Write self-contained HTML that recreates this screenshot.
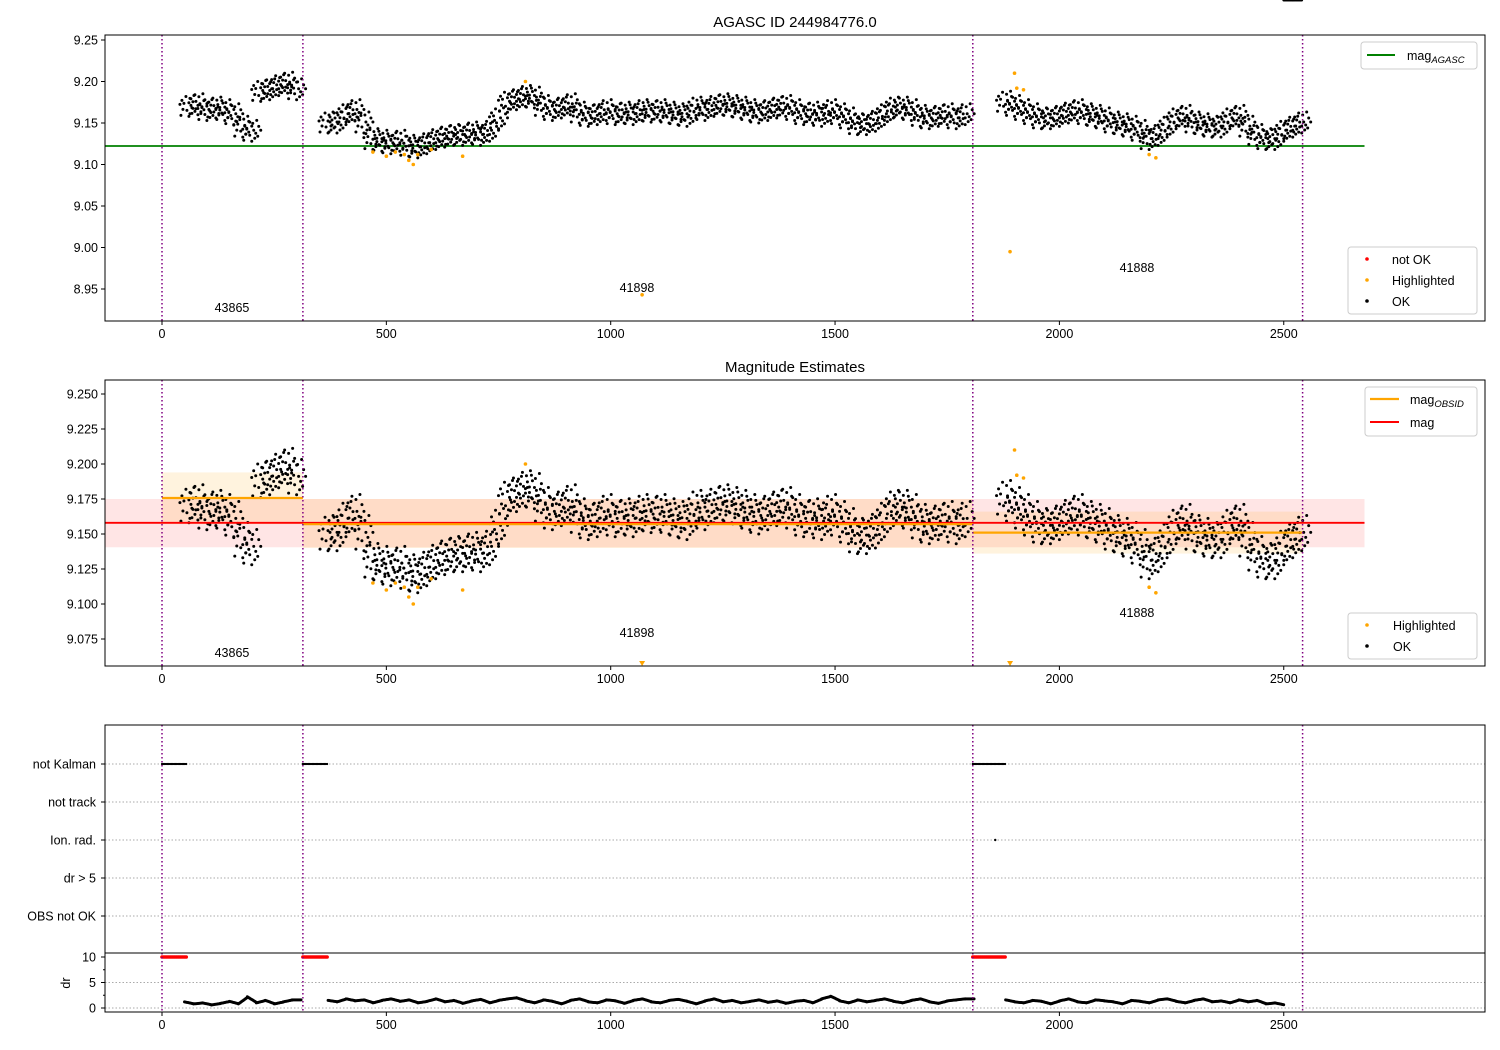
<!DOCTYPE html>
<html><head><meta charset="utf-8"><style>
html,body{margin:0;padding:0;background:#fff;overflow:hidden}
svg{display:block;font-family:"Liberation Sans","DejaVu Sans",sans-serif}
</style></head><body>
<svg id="chart" width="1500" height="1050" viewBox="0 0 1500 1050" xmlns="http://www.w3.org/2000/svg">
<defs><clipPath id="c1"><rect x="105" y="35" width="1380" height="286"/></clipPath><clipPath id="c2"><rect x="105" y="380" width="1380" height="286"/></clipPath></defs>
</svg>
<script>
// ---- data ----
const seg1X=[60,80,100,120,140,160,180,200,220,240,260,280,300];
const seg1Mag=[9.170,9.172,9.165,9.168,9.165,9.160,9.145,9.140,9.188,9.190,9.195,9.198,9.190];
const seg2X=[370,390,410,430,450,470,490,510,530,550,570,590,610,630,650,670,690,710,730,750,770,790,810,830,850,870,890,910,930,950,970,990,1010,1030,1050,1070,1090,1110,1130,1150,1170,1190,1210,1230,1250,1270,1290,1310,1330,1350,1370,1390,1410,1430,1450,1470,1490,1510,1530,1550,1570,1590,1610,1630,1650,1670,1690,1710,1730,1750,1770,1790];
const seg2Mag=[9.150,9.150,9.160,9.165,9.150,9.130,9.128,9.125,9.128,9.122,9.120,9.125,9.130,9.133,9.135,9.135,9.138,9.135,9.140,9.155,9.175,9.178,9.182,9.180,9.170,9.165,9.168,9.172,9.162,9.158,9.160,9.165,9.160,9.162,9.160,9.165,9.163,9.165,9.162,9.160,9.158,9.168,9.165,9.170,9.172,9.170,9.168,9.165,9.162,9.165,9.168,9.170,9.165,9.160,9.162,9.158,9.165,9.160,9.155,9.148,9.148,9.152,9.160,9.168,9.168,9.165,9.158,9.155,9.158,9.160,9.155,9.160];
const seg3X=[1880,1900,1920,1940,1960,1980,2000,2020,2040,2060,2080,2100,2120,2140,2160,2180,2200,2220,2240,2260,2280,2300,2320,2340,2360,2380,2400,2420,2440,2460,2480,2500,2520,2540];
const seg3Mag=[9.175,9.170,9.165,9.160,9.155,9.155,9.158,9.162,9.165,9.160,9.158,9.155,9.150,9.148,9.145,9.140,9.130,9.135,9.145,9.155,9.158,9.150,9.148,9.145,9.145,9.155,9.158,9.145,9.135,9.130,9.130,9.140,9.145,9.150];
const hlX=[470,500,520,540,550,560,570,600,670,810,1890,1900,1905,1920,2200,2215,1070];
const hlMag=[9.115,9.110,9.115,9.112,9.105,9.100,9.112,9.118,9.110,9.200,8.995,9.210,9.192,9.190,9.112,9.108,8.943];
const obsBounds=[0,314,1807,2542];
const obsIds=["43865","41898","41888"];
const obsMag=[9.1757,9.157,9.151];
const obsLo=[9.157,9.140,9.136];
const obsHi=[9.194,9.175,9.166];
const agascMag=9.1223;
const meanMag=9.158, meanLo=9.1405, meanHi=9.175;
const nkRanges=[[0,55],[314,370],[1807,1880]];
const ionX=[1857];
const drX=[60,80,100,120,140,160,180,200,220,240,260,280,300,380,400,420,440,460,480,500,520,540,560,580,600,620,640,660,680,700,720,740,760,780,800,820,840,860,880,900,920,940,960,980,1000,1020,1040,1060,1080,1100,1120,1140,1160,1180,1200,1220,1240,1260,1280,1300,1320,1340,1360,1380,1400,1420,1440,1460,1480,1500,1520,1540,1560,1580,1600,1620,1640,1660,1680,1700,1720,1740,1760,1780,1800,1890,1910,1930,1950,1970,1990,2010,2030,2050,2070,2090,2110,2130,2150,2170,2190,2210,2230,2250,2270,2290,2310,2330,2350,2370,2390,2410,2430,2450,2470,2490,2510,2530];
const drVal=[1.2,0.8,1.0,0.6,0.9,1.3,0.8,2.2,1.0,1.5,0.8,1.2,1.6,1.5,1.2,1.8,1.4,1.6,1.0,1.5,1.8,1.3,1.6,1.0,1.3,1.8,1.2,1.5,0.9,1.4,1.7,1.0,1.5,1.8,2.0,1.4,1.0,1.6,1.3,0.8,1.5,1.8,1.2,1.0,1.6,1.4,0.9,1.5,1.8,1.2,1.0,1.5,1.7,1.3,0.8,1.4,1.8,1.2,1.5,1.0,1.3,1.6,1.1,1.4,0.9,1.3,1.5,1.0,1.8,2.3,1.4,1.0,1.6,1.2,1.5,1.8,1.3,1.0,1.5,1.8,1.2,0.9,1.4,1.6,1.8,1.6,1.2,1.0,1.5,1.3,0.8,1.4,1.8,1.2,1.0,1.6,1.4,1.2,0.8,1.5,1.3,1.0,1.6,1.8,1.3,1.0,1.5,1.8,1.2,1.4,1.0,1.6,1.2,1.5,0.8,1.0,0.6];
const xTicks=[0,500,1000,1500,2000,2500];
const y1Ticks=[9.25,9.20,9.15,9.10,9.05,9.00,8.95];
const y2Ticks=[9.250,9.225,9.200,9.175,9.150,9.125,9.100,9.075];
const flagLabels=["not Kalman","not track","Ion. rad.","dr > 5","OBS not OK"];
const drTicks=[0,5,10];

// ---- scales ----
const NS="http://www.w3.org/2000/svg";
const svg=document.getElementById('chart');
const L=105,R=1485;
const xS=v=>162+v*0.4487;
const y1=v=>40+(9.25-v)*830;
const y2=v=>464+(9.2-v)*1400;
const yFlag=i=>764+i*38;
const yDr=v=>1008-v*5.1;
function el(tag,attrs,parent){const e=document.createElementNS(NS,tag);for(const k in attrs)e.setAttribute(k,attrs[k]);(parent||svg).appendChild(e);return e;}
function txt(s,attrs,parent){const t=el('text',attrs,parent);t.textContent=s;return t;}

const dotPat=[[-8,-0.9],[-5,0.3],[-2,-0.4],[1,0.8],[4,-0.2],[7,0.5],[-7,0.6],[-3,1.0],[0,-1.0],[3,-0.7],[6,-0.5],[9,0.1],[-9,0.2],[2,0.1],[-6,-0.3],[5,1.1]];

function drawScatter(g,yf,spread){
  [[seg1X,seg1Mag],[seg2X,seg2Mag],[seg3X,seg3Mag]].forEach(([xs,ms])=>{
    xs.forEach((x,i)=>{
      dotPat.forEach(p=>{
        const c=el('circle',{cx:xS(x)+p[0],cy:yf(ms[i]+p[1]*spread),r:1.5,fill:'#000'},g);
        
        
      });
    });
  });
}
function drawHl(g,yf,lo,hi){
  hlX.forEach((x,i)=>{
    const v=hlMag[i];
    if(v<lo||v>hi)return;
    const c=el('circle',{cx:xS(x),cy:yf(v),r:1.8,fill:'orange'},g);
    
    
  });
}
function vlines(g,top,bot){
  obsBounds.forEach(b=>{
    const l=el('line',{x1:xS(b),x2:xS(b),y1:top,y2:bot,stroke:'purple','stroke-width':1.5,'stroke-dasharray':'1.5,2.5'},g);
    
    
  });
}
function xAxis(g,bot){
  xTicks.forEach(t=>{
    el('line',{x1:xS(t),x2:xS(t),y1:bot,y2:bot+4,stroke:'#000'},g);
    const tt=txt(String(t),{x:xS(t),y:bot+17,'font-size':12.5,'text-anchor':'middle'},g);
    
    
  });
}
function frame(g,top,bot){el('rect',{x:L,y:top,width:R-L,height:bot-top,fill:'none',stroke:'#000','stroke-width':1},g);}

// ---- panel 1 ----
const p1=el('g',{});
txt('AGASC ID 244984776.0',{x:795,y:27,'font-size':15,'text-anchor':'middle',},p1);
const p1c=el('g',{'clip-path':'url(#c1)'},p1);
el('line',{x1:L,x2:xS(2680),y1:y1(agascMag),y2:y1(agascMag),stroke:'green','stroke-width':1.8,},p1c);
drawScatter(p1c,y1,0.012);
drawHl(p1c,y1,8.91,9.26);
vlines(p1c,35,321);
frame(p1,35,321);
y1Ticks.forEach(t=>{el('line',{x1:L-4,x2:L,y1:y1(t),y2:y1(t),stroke:'#000'},p1);
  const tt=txt(t.toFixed(2),{x:L-7,y:y1(t)+4.5,'font-size':12.5,'text-anchor':'end'},p1);
  });
xAxis(p1,321);
[[232,312],[637,292],[1137,272]].forEach((p,i)=>txt(obsIds[i],{x:p[0],y:p[1],'font-size':12.5,'text-anchor':'middle',},p1));
const lg1=el('g',{},p1);
el('rect',{x:1361,y:42,width:116,height:27,rx:3,fill:'#fff','fill-opacity':0.8,stroke:'#ccc'},lg1);
el('line',{x1:1367,x2:1395,y1:55,y2:55,stroke:'green','stroke-width':2},lg1);
const t1=txt('mag',{x:1407,y:60,'font-size':12.5},lg1);
const s1=el('tspan',{'font-size':9.5,'font-style':'italic',dy:3},t1);s1.textContent='AGASC';
const lg2=el('g',{},p1);
el('rect',{x:1348,y:247,width:129,height:67,rx:3,fill:'#fff','fill-opacity':0.8,stroke:'#ccc'},lg2);
[['red','not OK',259],['orange','Highlighted',280],['#000','OK',301]].forEach(a=>{el('circle',{cx:1367,cy:a[2],r:1.8,fill:a[0]},lg2);txt(a[1],{x:1392,y:a[2]+5,'font-size':12.5},lg2);});

// ---- panel 2 ----
const p2=el('g',{});
txt('Magnitude Estimates',{x:795,y:372,'font-size':15,'text-anchor':'middle',},p2);
const p2c=el('g',{'clip-path':'url(#c2)'},p2);
el('rect',{x:L,y:y2(meanHi),width:xS(2680)-L,height:y2(meanLo)-y2(meanHi),fill:'red','fill-opacity':0.1,},p2c);
for(let i=0;i<3;i++){
  el('rect',{x:xS(obsBounds[i]),y:y2(obsHi[i]),width:xS(obsBounds[i+1])-xS(obsBounds[i]),height:y2(obsLo[i])-y2(obsHi[i]),fill:'orange','fill-opacity':0.13,},p2c);
}
drawScatter(p2c,y2,0.012);
drawHl(p2c,y2,9.056,9.26);
el('line',{x1:L,x2:xS(2680),y1:y2(meanMag),y2:y2(meanMag),stroke:'red','stroke-width':1.8,},p2c);
for(let i=0;i<3;i++){
  el('line',{x1:xS(obsBounds[i]),x2:xS(obsBounds[i+1]),y1:y2(obsMag[i]),y2:y2(obsMag[i]),stroke:'orange','stroke-width':2.2,},p2c);
}
hlX.forEach((x,i)=>{if(hlMag[i]<9.056){const X=xS(x);el('path',{d:`M${X-3},661 L${X+3},661 L${X},666 Z`,fill:'orange',},p2c);}});
vlines(p2c,380,666);
frame(p2,380,666);
y2Ticks.forEach(t=>{el('line',{x1:L-4,x2:L,y1:y2(t),y2:y2(t),stroke:'#000'},p2);
  const tt=txt(t.toFixed(3),{x:L-7,y:y2(t)+4.5,'font-size':12.5,'text-anchor':'end'},p2);
  });
xAxis(p2,666);
[[232,657],[637,637],[1137,617]].forEach((p,i)=>txt(obsIds[i],{x:p[0],y:p[1],'font-size':12.5,'text-anchor':'middle',},p2));
const lg3=el('g',{},p2);
el('rect',{x:1365,y:387,width:112,height:49,rx:3,fill:'#fff','fill-opacity':0.8,stroke:'#ccc'},lg3);
el('line',{x1:1370,x2:1399,y1:399,y2:399,stroke:'orange','stroke-width':2.2},lg3);
const t3=txt('mag',{x:1410,y:404,'font-size':12.5},lg3);
const s3=el('tspan',{'font-size':9.5,'font-style':'italic',dy:3},t3);s3.textContent='OBSID';
el('line',{x1:1370,x2:1399,y1:422,y2:422,stroke:'red','stroke-width':2},lg3);
txt('mag',{x:1410,y:427,'font-size':12.5},lg3);
const lg4=el('g',{},p2);
el('rect',{x:1348,y:613,width:129,height:46,rx:3,fill:'#fff','fill-opacity':0.8,stroke:'#ccc'},lg4);
[['orange','Highlighted',625],['#000','OK',646]].forEach(a=>{el('circle',{cx:1367,cy:a[2],r:1.8,fill:a[0]},lg4);txt(a[1],{x:1393,y:a[2]+5,'font-size':12.5},lg4);});

// ---- panel 3 ----
const p3=el('g',{});
flagLabels.forEach((f,i)=>{
  el('line',{x1:L,x2:R,y1:yFlag(i),y2:yFlag(i),stroke:'#aaa','stroke-dasharray':'1.5,2','stroke-width':1},p3);
  el('line',{x1:L-4,x2:L,y1:yFlag(i),y2:yFlag(i),stroke:'#000'},p3);
  const tt=txt(f,{x:L-9,y:yFlag(i)+4.5,'font-size':12.5,'text-anchor':'end'},p3);
  
});
[2.5,7.5].forEach(v=>el('line',{x1:L-2,x2:L,y1:yDr(v),y2:yDr(v),stroke:'#000'},p3));
el('line',{x1:L,x2:R,y1:yDr(0),y2:yDr(0),stroke:'#aaa','stroke-dasharray':'1.5,2'},p3);
el('line',{x1:L,x2:R,y1:yDr(5),y2:yDr(5),stroke:'#aaa','stroke-dasharray':'1.5,2'},p3);
nkRanges.forEach(r=>{
  for(let x=r[0];x<=r[1];x+=3){
    el('circle',{cx:xS(x),cy:yFlag(0),r:1.1,fill:'#000',},p3);
    el('circle',{cx:xS(x),cy:yDr(10),r:1.8,fill:'red',},p3);
  }
});
ionX.forEach(x=>el('circle',{cx:xS(x),cy:yFlag(2),r:1.2,fill:'#000',},p3));
drX.forEach((x,i)=>{
  for(let k=-4;k<=4;k++){
    const j=Math.min(drX.length-1,i+1);
    const f=(k+4)/9, v2=(drX[j]-x<=25)?drVal[i]+(drVal[j]-drVal[i])*f:drVal[i];
    el('circle',{cx:xS(x)+k*1.1,cy:yDr(v2),r:1.5,fill:'#000',},p3);
  }
});
vlines(p3,725,1012);
el('rect',{x:L,y:725,width:R-L,height:287,fill:'none',stroke:'#000'},p3);
el('line',{x1:L,x2:R,y1:953,y2:953,stroke:'#000'},p3);
drTicks.forEach(t=>{el('line',{x1:L-4,x2:L,y1:yDr(t),y2:yDr(t),stroke:'#000'},p3);
  const tt=txt(String(t),{x:L-9,y:yDr(t)+4.5,'font-size':12.5,'text-anchor':'end'},p3);
  });
txt('dr',{x:70,y:983,'font-size':12.5,'text-anchor':'middle',transform:'rotate(-90 70 983)',},p3);
xAxis(p3,1012);
</script>
</body></html>
